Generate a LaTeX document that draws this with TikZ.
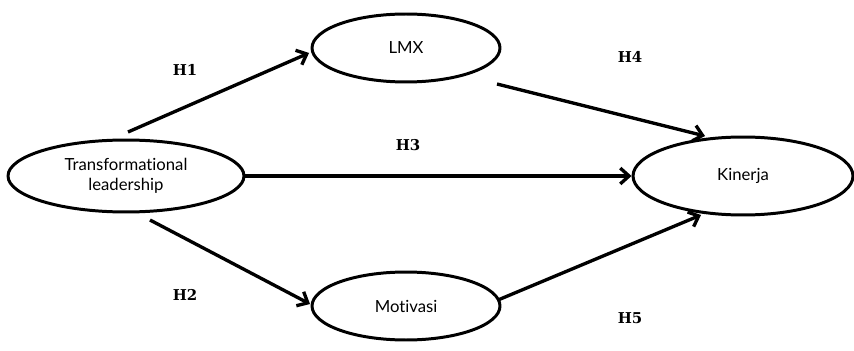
\documentclass[tikz,border=0pt]{standalone}
\usepackage{fontspec}
\setmainfont{Lato}[Ligatures={NoCommon}]
\newfontfamily\hfont{DejaVu Serif}
\usetikzlibrary{shapes.geometric,arrows.meta}
\begin{document}
\begin{tikzpicture}[x=0.02cm,y=-0.02cm,
    var/.style={ellipse,draw,line width=1.7pt,font=\fontsize{9.5}{11.5}\selectfont,align=center,inner sep=0pt},
    hyp/.style={font=\hfont\bfseries\fontsize{8.5}{10}\selectfont},
    link/.style={line width=1.9pt,-{Straight Barb[length=5pt,width=9pt,line width=1.9pt]}}]
	\useasboundingbox (0,0) rectangle (854,351);

		\node[var,minimum width=4.72cm,minimum height=1.44cm] (T) at (126,176) {Transformational\\leadership};
		\node[var,minimum width=3.76cm,minimum height=1.36cm] (L) at (406,48) {LMX};
		\node[var,minimum width=3.76cm,minimum height=1.36cm] (M) at (406,306) {Motivasi};
		\node[var,minimum width=4.40cm,minimum height=1.56cm] (K) at (743,176) {Kinerja};

		\coordinate (t1) at (128,132);
		\coordinate (t2) at (150,220);
		\coordinate (l0) at (309,53);
		\coordinate (m0) at (310,304);
		\coordinate (l1) at (497,84);
		\coordinate (m1) at (498,300);
		\coordinate (k1) at (705,136);
		\coordinate (k2) at (701,215);

		\draw[link] (t1) -- (l0);
		\draw[link] (T) -- (K);
		\draw[link] (t2) -- (m0);
		\draw[link] (l1) -- (k1);
		\draw[link] (m1) -- (k2);

		\node[hyp] (h1) at (185,70) {H1};
		\node[hyp] (h2) at (185,295) {H2};
		\node[hyp] (h3) at (408,145) {H3};
		\node[hyp] (h4) at (630,57) {H4};
		\node[hyp] (h5) at (630,318) {H5};
	\end{tikzpicture}
\end{document}
